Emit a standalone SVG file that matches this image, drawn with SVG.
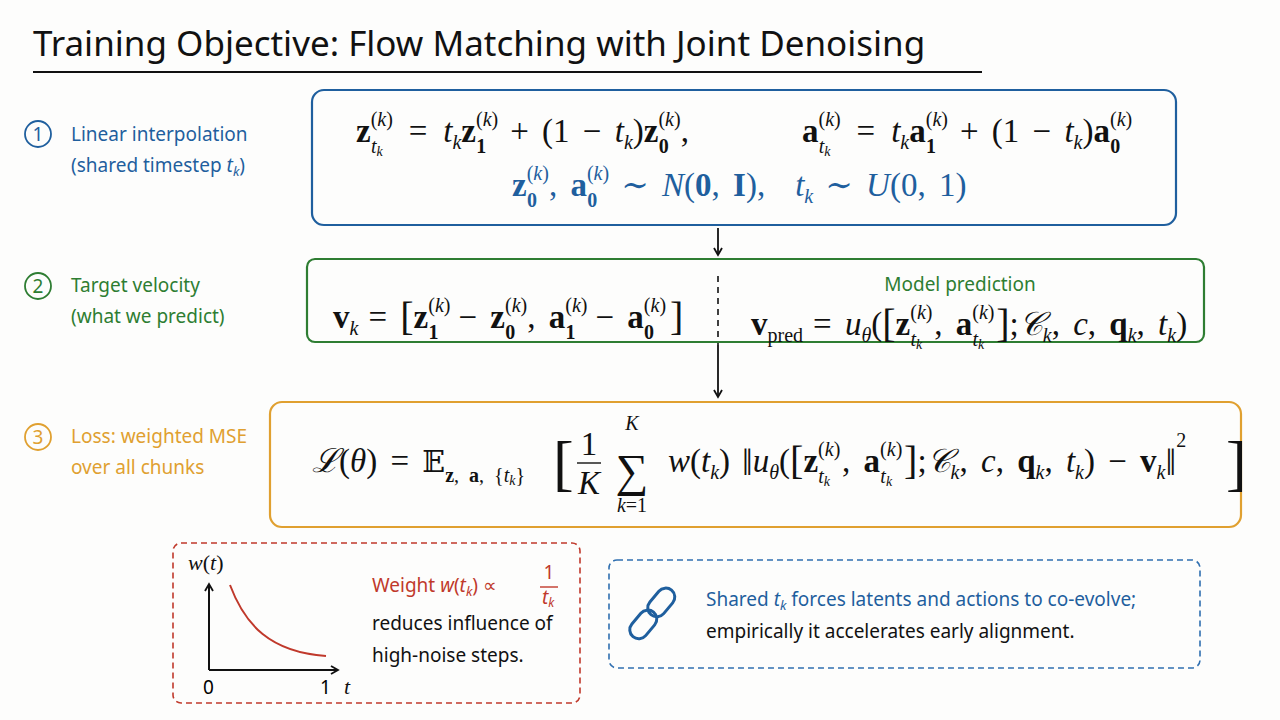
<svg xmlns="http://www.w3.org/2000/svg" width="1280" height="720" viewBox="0 0 1280 720">
<style>
.h{font-family:"Noto Sans","DejaVu Sans",sans-serif;font-size:19px}
.m{font-family:"Liberation Serif","DejaVu Serif",serif;font-size:33px;word-spacing:5px;fill:#111}
.b{font-weight:bold}.i{font-style:italic}
.s{font-size:20px}.xs{font-size:14px}
.box{fill:none;stroke-width:2.2}
</style>
<defs><marker id="ar" markerWidth="10" markerHeight="10" refX="8" refY="5" orient="auto" markerUnits="userSpaceOnUse"><path d="M1,1 L8,5 L1,9" fill="none" stroke="#111" stroke-width="1.8"/></marker></defs>
<rect width="1280" height="720" fill="#fdfdfc"/>
<g id="title"><text x="33" y="56" font-family="Noto Sans, sans-serif" font-size="35" fill="#111">Training Objective: Flow Matching with Joint Denoising</text><line x1="33" y1="72" x2="982" y2="72" stroke="#111" stroke-width="2"/></g>

<g id="labels">
<circle cx="38" cy="134" r="13" fill="none" stroke="#1f5f9e" stroke-width="1.8"/><text x="38" y="141" text-anchor="middle" class="h" fill="#1f5f9e">1</text>
<text class="h" fill="#1f5f9e"><tspan x="71" y="141">Linear interpolation</tspan><tspan x="71" y="172">(shared timestep </tspan><tspan class="i">t</tspan><tspan font-size="13" dy="4" class="i">k</tspan><tspan dy="-4">)</tspan></text>
<circle cx="38" cy="286" r="13" fill="none" stroke="#2e7d32" stroke-width="1.8"/><text x="38" y="293" text-anchor="middle" class="h" fill="#2e7d32">2</text>
<text class="h" fill="#2e7d32"><tspan x="71" y="292">Target velocity</tspan><tspan x="71" y="323">(what we predict)</tspan></text>
<circle cx="38" cy="437" r="13" fill="none" stroke="#e0a030" stroke-width="1.8"/><text x="38" y="444" text-anchor="middle" class="h" fill="#e0a030">3</text>
<text class="h" fill="#e0a030"><tspan x="71" y="443">Loss: weighted MSE</tspan><tspan x="71" y="474">over all chunks</tspan></text>
</g>

<g id="connectors">
<line x1="718" y1="228" x2="718" y2="255" stroke="#111" stroke-width="1.8" marker-end="url(#ar)"/>
<line x1="718" y1="276" x2="718" y2="345" stroke="#111" stroke-width="1.6" stroke-dasharray="6 5"/>
<line x1="718" y1="345" x2="718" y2="397" stroke="#111" stroke-width="1.8" marker-end="url(#ar)"/>
</g>

<g id="box1">
<rect class="box" x="312" y="90" width="864" height="135" rx="12" stroke="#1f5f9e"/>
<text class="m" x="356" y="142"><tspan class="b">z</tspan><tspan class="s" dy="-16">(<tspan class="i">k</tspan>)</tspan><tspan class="s i" dx="-22" dy="27">t</tspan><tspan class="xs i" dy="3">k</tspan><tspan dx="26" dy="-14">=</tspan><tspan dx="16" class="i">t</tspan><tspan class="s i" dy="7">k</tspan><tspan class="b" dy="-7">z</tspan><tspan class="s" dy="-16">(<tspan class="i">k</tspan>)</tspan><tspan class="s b" dx="-22" dy="27">1</tspan><tspan dx="24" dy="-11">+ (1 − </tspan><tspan class="i">t</tspan><tspan class="s i" dy="7">k</tspan><tspan dy="-7">)</tspan><tspan class="b">z</tspan><tspan class="s" dy="-16">(<tspan class="i">k</tspan>)</tspan><tspan class="s b" dx="-22" dy="27">0</tspan><tspan dx="12" dy="-11">,</tspan></text>
<text class="m" x="802" y="142"><tspan class="b">a</tspan><tspan class="s" dy="-16">(<tspan class="i">k</tspan>)</tspan><tspan class="s i" dx="-22" dy="27">t</tspan><tspan class="xs i" dy="3">k</tspan><tspan dx="26" dy="-14">=</tspan><tspan dx="16" class="i">t</tspan><tspan class="s i" dy="7">k</tspan><tspan class="b" dy="-7">a</tspan><tspan class="s" dy="-16">(<tspan class="i">k</tspan>)</tspan><tspan class="s b" dx="-22" dy="27">1</tspan><tspan dx="24" dy="-11">+ (1 − </tspan><tspan class="i">t</tspan><tspan class="s i" dy="7">k</tspan><tspan dy="-7">)</tspan><tspan class="b">a</tspan><tspan class="s" dy="-16">(<tspan class="i">k</tspan>)</tspan><tspan class="s b" dx="-22" dy="27">0</tspan></text>
<text class="m" x="512" y="196" style="fill:#1f5f9e"><tspan class="b">z</tspan><tspan class="s" dy="-16">(<tspan class="i">k</tspan>)</tspan><tspan class="s b" dx="-22" dy="27">0</tspan><tspan dx="12" dy="-11">, </tspan><tspan class="b">a</tspan><tspan class="s" dy="-16">(<tspan class="i">k</tspan>)</tspan><tspan class="s b" dx="-22" dy="27">0</tspan><tspan dx="24" dy="-11">∼ </tspan><tspan class="i">N</tspan><tspan>(</tspan><tspan class="b">0</tspan><tspan>, </tspan><tspan class="b">I</tspan><tspan>),</tspan><tspan dx="30" class="i">t</tspan><tspan class="s i" dy="7">k</tspan><tspan dx="12" dy="-7">∼ </tspan><tspan class="i">U</tspan><tspan>(0, 1)</tspan></text>
</g>

<g id="box2">
<rect class="box" x="307" y="259" width="897" height="83" rx="8" stroke="#2e7d32"/>
<text x="960" y="291" text-anchor="middle" class="h" fill="#2e7d32">Model prediction</text>
<text class="m" x="333" y="328"><tspan class="b">v</tspan><tspan class="s i" dy="7">k</tspan><tspan dx="10" dy="-7">= </tspan><tspan font-size="40" dy="2">[</tspan><tspan class="b" dy="-2">z</tspan><tspan class="s" dy="-16">(<tspan class="i">k</tspan>)</tspan><tspan class="s b" dx="-22" dy="27">1</tspan><tspan dx="20" dy="-11">− </tspan><tspan class="b">z</tspan><tspan class="s" dy="-16">(<tspan class="i">k</tspan>)</tspan><tspan class="s b" dx="-22" dy="27">0</tspan><tspan dx="12" dy="-11">, </tspan><tspan class="b">a</tspan><tspan class="s" dy="-16">(<tspan class="i">k</tspan>)</tspan><tspan class="s b" dx="-22" dy="27">1</tspan><tspan dx="20" dy="-11">− </tspan><tspan class="b">a</tspan><tspan class="s" dy="-16">(<tspan class="i">k</tspan>)</tspan><tspan class="s b" dx="-22" dy="27">0</tspan><tspan dx="16" dy="-9" font-size="40">]</tspan></text>
<text class="m" x="751" y="335"><tspan class="b">v</tspan><tspan class="s" dy="7">pred</tspan><tspan dx="10" dy="-7">= </tspan><tspan class="i">u</tspan><tspan class="s i" dy="7">θ</tspan><tspan dy="-7">(</tspan><tspan font-size="40" dy="2">[</tspan><tspan class="b" dy="-2">z</tspan><tspan class="s" dy="-16">(<tspan class="i">k</tspan>)</tspan><tspan class="s i" dx="-22" dy="27">t</tspan><tspan class="xs i" dy="3">k</tspan><tspan dx="12" dy="-14">, </tspan><tspan class="b">a</tspan><tspan class="s" dy="-16">(<tspan class="i">k</tspan>)</tspan><tspan class="s i" dx="-22" dy="27">t</tspan><tspan class="xs i" dy="3">k</tspan><tspan dx="12" dy="-12" font-size="40">]</tspan><tspan dy="-2">;</tspan><tspan class="i">𝒞</tspan><tspan class="s i" dy="7">k</tspan><tspan dy="-7">, </tspan><tspan class="i">c</tspan><tspan>, </tspan><tspan class="b">q</tspan><tspan class="s i" dy="7">k</tspan><tspan dy="-7">, </tspan><tspan class="i">t</tspan><tspan class="s i" dy="7">k</tspan><tspan dy="-7">)</tspan></text>
</g>

<g id="box3">
<rect class="box" x="270" y="402" width="971" height="125" rx="12" stroke="#e0a030"/>
<text class="m" x="312" y="472"><tspan class="i">ℒ</tspan><tspan>(</tspan><tspan class="i">θ</tspan><tspan>) = </tspan><tspan font-family="DejaVu Serif" font-size="30">𝔼</tspan><tspan class="s b" dy="10">z</tspan><tspan class="s">, </tspan><tspan class="s b">a</tspan><tspan class="s">, {</tspan><tspan class="s i">t</tspan><tspan class="xs i" dy="3">k</tspan><tspan class="s" dy="-3">}</tspan></text>
<text class="m" x="553" y="484" style="font-size:62px;font-weight:300">[</text>
<text class="m" x="589" y="455" text-anchor="middle">1</text>
<line x1="577" y1="463" x2="601" y2="463" stroke="#111" stroke-width="1.4"/>
<text class="m i" x="589" y="494" text-anchor="middle">K</text>
<text class="m" x="632" y="486" text-anchor="middle" style="font-size:46px">∑</text>
<text class="m s i" x="632" y="430" text-anchor="middle">K</text>
<text class="m s" x="632" y="512" text-anchor="middle"><tspan class="i">k</tspan>=1</text>
<text class="m" x="668" y="472"><tspan class="i">w</tspan><tspan>(</tspan><tspan class="i">t</tspan><tspan class="s i" dy="7">k</tspan><tspan dy="-7">)</tspan><tspan dx="12" font-size="38" dy="3">‖</tspan><tspan class="i" dy="-3">u</tspan><tspan class="s i" dy="7">θ</tspan><tspan dy="-7">(</tspan><tspan font-size="40" dy="2">[</tspan><tspan class="b" dy="-2">z</tspan><tspan class="s" dy="-16">(<tspan class="i">k</tspan>)</tspan><tspan class="s i" dx="-22" dy="27">t</tspan><tspan class="xs i" dy="3">k</tspan><tspan dx="12" dy="-14">, </tspan><tspan class="b">a</tspan><tspan class="s" dy="-16">(<tspan class="i">k</tspan>)</tspan><tspan class="s i" dx="-22" dy="27">t</tspan><tspan class="xs i" dy="3">k</tspan><tspan dx="12" dy="-12" font-size="40">]</tspan><tspan dy="-2">;</tspan><tspan class="i">𝒞</tspan><tspan class="s i" dy="7">k</tspan><tspan dy="-7">, </tspan><tspan class="i">c</tspan><tspan>, </tspan><tspan class="b">q</tspan><tspan class="s i" dy="7">k</tspan><tspan dy="-7">, </tspan><tspan class="i">t</tspan><tspan class="s i" dy="7">k</tspan><tspan dy="-7">) − </tspan><tspan class="b">v</tspan><tspan class="s i" dy="7">k</tspan><tspan font-size="38" dy="-4">‖</tspan><tspan class="s" dy="-28">2</tspan></text>
<text class="m" x="1226" y="484" style="font-size:62px;font-weight:300">]</text>
</g>

<g id="weight-note">
<rect x="173" y="543" width="407" height="160" rx="8" fill="none" stroke="#c0392b" stroke-width="1.6" stroke-dasharray="6 4"/>
<line x1="209" y1="670" x2="209" y2="584" stroke="#111" stroke-width="2" marker-end="url(#ar)"/>
<line x1="209" y1="670" x2="338" y2="670" stroke="#111" stroke-width="2" marker-end="url(#ar)"/>
<path d="M230,585 C245,625 270,652 326,656" fill="none" stroke="#c0392b" stroke-width="2"/>
<text x="188" y="570" class="m" style="font-size:22px"><tspan class="i">w</tspan>(<tspan class="i">t</tspan>)</text>
<text x="203" y="694" class="h">0</text>
<text x="320" y="694" class="h">1</text>
<text x="344" y="694" class="m i" style="font-size:22px">t</text>
<text class="h" fill="#c0392b"><tspan x="372" y="592">Weight </tspan><tspan class="i">w</tspan><tspan>(</tspan><tspan class="i">t</tspan><tspan class="i" font-size="13" dy="4">k</tspan><tspan dy="-4">)  ∝</tspan></text>
<text x="549" y="579" class="h" fill="#c0392b" text-anchor="middle" font-size="17">1</text>
<line x1="540" y1="587" x2="558" y2="587" stroke="#c0392b" stroke-width="1.4"/>
<text class="h i" fill="#c0392b" font-size="17"><tspan x="542" y="604">t</tspan><tspan font-size="12" dy="3">k</tspan></text>
<text class="h" fill="#111"><tspan x="372" y="630">reduces influence of</tspan><tspan x="372" y="662">high-noise steps.</tspan></text>
</g>

<g id="shared-note">
<rect x="609" y="560" width="591" height="108" rx="8" fill="none" stroke="#2f6fb0" stroke-width="1.6" stroke-dasharray="6 4"/>
<g fill="none" stroke="#1f5f9e" stroke-width="3">
<rect x="-9" y="-18" width="18" height="32" rx="9" transform="translate(660,604) rotate(40)"/>
<rect x="-9" y="-18" width="18" height="32" rx="9" transform="translate(642,626) rotate(40)"/>
</g>
<text class="h" fill="#1f5f9e"><tspan x="706" y="606">Shared </tspan><tspan class="i">t</tspan><tspan class="i" font-size="13" dy="4">k</tspan><tspan dy="-4"> forces latents and actions to co-evolve;</tspan></text>
<text x="706" y="638" class="h" fill="#111">empirically it accelerates early alignment.</text>
</g>
</svg>
